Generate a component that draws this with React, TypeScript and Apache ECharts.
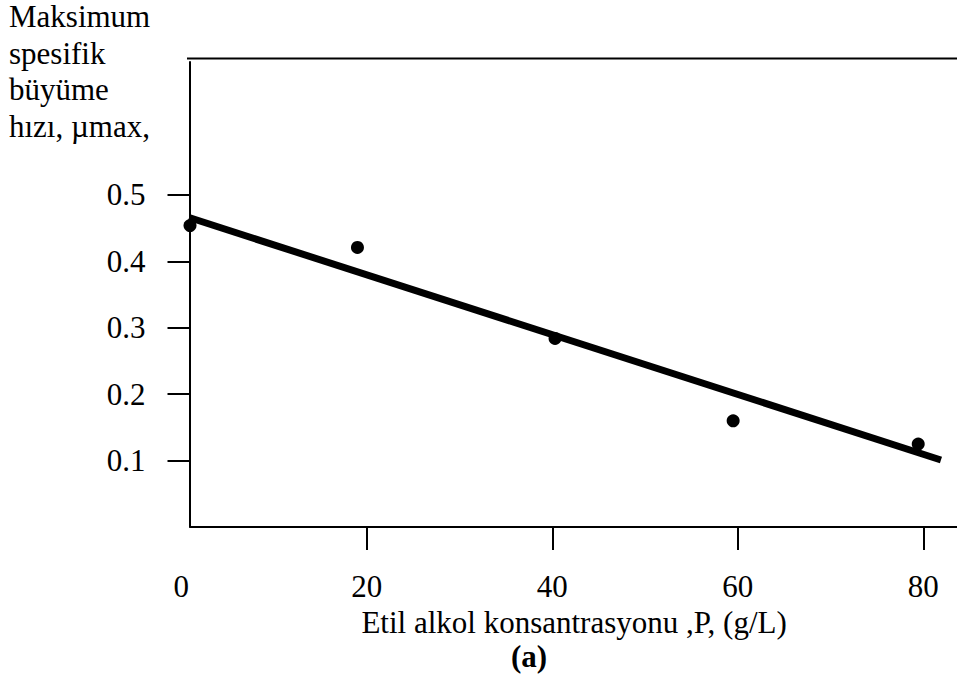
import React, { useEffect, useRef } from "react";
import * as echarts from "echarts";

// Measured maximum specific growth rate against ethanol concentration
const concentration = [0.95, 19.0, 40.3, 59.5, 79.45];
const muMax = [0.454, 0.421, 0.284, 0.16, 0.125];

// End points of the fitted straight line
const fitX = [0.85, 81.9];
const fitY = [0.466, 0.101];

const xTicks = [20, 40, 60, 80];
const yTicks = [0.1, 0.2, 0.3, 0.4, 0.5];

const yTitle = ["Maksimum", "spesifik", "büyüme", "hızı, µmax,"];
const xTitle = "Etil alkol konsantrasyonu ,P, (g/L)";
const caption = "(a)";

const FONT = "Liberation Serif";

export default function App() {
  const ref = useRef<HTMLDivElement>(null);

  useEffect(() => {
    if (!ref.current) return;
    const chart = echarts.init(ref.current, undefined, { renderer: "svg" });

    // one text element per line of the stacked y-axis title
    const titleLines = yTitle.map((line, i) => ({
      type: "text",
      x: 9,
      y: 16.5 + i * 36.7,
      style: {
        text: line,
        font: `normal 31px "${FONT}"`,
        fill: "#000",
        align: "left",
        verticalAlign: "middle",
      },
      silent: true,
    }));

    chart.setOption({
      animation: false,
      backgroundColor: "#fff",
      textStyle: { fontFamily: FONT, color: "#000" },
      grid: { left: 181.2, right: 0, top: 62.1, bottom: 154.9, containLabel: false },
      xAxis: {
        type: "value",
        min: 0,
        max: 83.63,
        interval: 20,
        splitLine: { show: false },
        axisLine: { show: false },
        axisTick: {
          show: true,
          customValues: xTicks,
          length: 23,
          inside: false,
          lineStyle: { color: "#000", width: 2 },
        },
        axisLabel: {
          margin: 44,
          fontSize: 31,
          fontFamily: FONT,
          color: "#000",
          showMaxLabel: false,
        },
        name: xTitle,
        nameLocation: "middle",
        nameGap: 79,
        nameTextStyle: {
          fontSize: 31,
          fontFamily: FONT,
          color: "#000",
          padding: [0, 0, 0, 10],
        },
      },
      yAxis: {
        type: "value",
        min: 0,
        max: 0.7,
        offset: -8.3,
        splitLine: { show: false },
        axisLine: { show: true, lineStyle: { color: "#000", width: 2 } },
        axisTick: {
          show: true,
          customValues: yTicks,
          length: 22,
          lineStyle: { color: "#000", width: 2 },
        },
        axisLabel: {
          customValues: yTicks,
          margin: 44,
          fontSize: 31,
          fontFamily: FONT,
          color: "#000",
          formatter: (v: number) => v.toFixed(1),
        },
      },
      graphic: [
        {
          type: "line",
          shape: { x1: 187, y1: 58.5, x2: 957, y2: 58.5 },
          style: { stroke: "#000", lineWidth: 2 },
          silent: true,
        },
        {
          type: "line",
          shape: { x1: 189.5, y1: 527.1, x2: 957, y2: 527.1 },
          style: { stroke: "#000", lineWidth: 2 },
          silent: true,
        },
        ...titleLines,
        {
          type: "text",
          x: 529,
          y: 656,
          style: {
            text: caption,
            font: `bold 31px "${FONT}"`,
            fill: "#000",
            align: "center",
            verticalAlign: "middle",
          },
          silent: true,
        },
      ],
      series: [
        {
          type: "line",
          data: fitX.map((x, i) => [x, fitY[i]]),
          showSymbol: false,
          symbol: "none",
          lineStyle: { color: "#000", width: 7, cap: "butt" },
          z: 2,
        },
        {
          type: "scatter",
          data: concentration.map((x, i) => [x, muMax[i]]),
          symbol: "circle",
          symbolSize: 13,
          itemStyle: { color: "#000", opacity: 1 },
          z: 3,
        },
      ],
    });
    return () => chart.dispose();
  }, []);

  return (
    <div
      ref={ref}
      style={{ position: "fixed", left: 0, top: 0, width: 957, height: 682 }}
    />
  );
}
